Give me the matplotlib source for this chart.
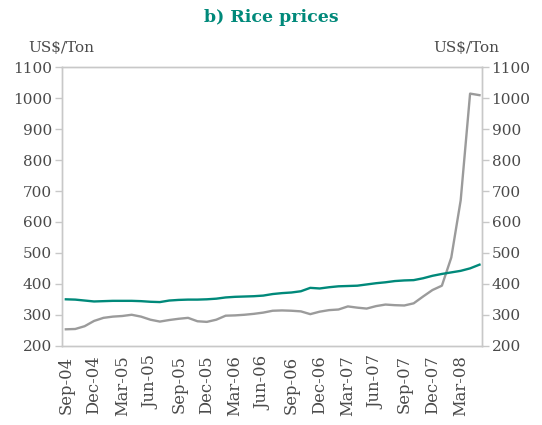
import matplotlib
matplotlib.use("Agg")
import matplotlib.pyplot as plt

months = ["Sep-04", "Oct-04", "Nov-04", "Dec-04", "Jan-05", "Feb-05", "Mar-05", "Apr-05",
          "May-05", "Jun-05", "Jul-05", "Aug-05", "Sep-05", "Oct-05", "Nov-05", "Dec-05",
          "Jan-06", "Feb-06", "Mar-06", "Apr-06", "May-06", "Jun-06", "Jul-06", "Aug-06",
          "Sep-06", "Oct-06", "Nov-06", "Dec-06", "Jan-07", "Feb-07", "Mar-07", "Apr-07",
          "May-07", "Jun-07", "Jul-07", "Aug-07", "Sep-07", "Oct-07", "Nov-07", "Dec-07",
          "Jan-08", "Feb-08", "Mar-08", "Apr-08", "May-08"]

gray_series = [253, 254, 263, 280, 290, 294, 296, 300, 294, 284, 278, 283, 287, 290, 279,
               277, 284, 297, 298, 300, 303, 307, 313, 314, 313, 311, 302, 310, 315, 317,
               327, 323, 320, 328, 333, 331, 330, 337, 359, 380, 394, 485, 670, 1015, 1010]

green_series = [350, 349, 346, 343, 344, 345, 345, 345, 344, 342, 341, 346, 348, 349, 349,
                350, 352, 356, 358, 359, 360, 362, 367, 370, 372, 376, 387, 385, 389, 392,
                393, 394, 398, 402, 405, 409, 411, 412, 418, 426, 432, 437, 442, 450, 462]

yticks = [200, 300, 400, 500, 600, 700, 800, 900, 1000, 1100]

teal = "#00897a"
gray = "#9b9b9b"
axis_col = "#c8c8c8"
text_col = "#4a4a4a"
serif = "DejaVu Serif"

fig = plt.figure(figsize=(5.42, 4.25), dpi=100)
ax = fig.add_axes([0.114, 0.1866, 0.775, 0.655])

x = list(range(len(months)))
ax.plot(x, gray_series, color=gray, lw=1.7, solid_joinstyle="round")
ax.plot(x, green_series, color=teal, lw=1.7, solid_joinstyle="round")

ax.set_xlim(-0.43, len(months) - 1 + 0.25)
ax.set_ylim(200, 1100)
ax.set_yticks(yticks)
ax.set_yticklabels([str(v) for v in yticks], family=serif, fontsize=11, color=text_col)

tick_idx = list(range(0, len(months), 3))
ax.set_xticks(tick_idx)
ax.set_xticklabels([months[i] for i in tick_idx], rotation=90, family=serif,
                   fontsize=11.8, color=text_col)
ax.tick_params(axis="x", length=0, pad=7)
ax.tick_params(axis="y", length=5, color=axis_col, width=1, pad=2)

for s in ax.spines.values():
    s.set_color(axis_col)
    s.set_linewidth(1)

ax2 = ax.twinx()
ax2.set_ylim(200, 1100)
ax2.set_yticks(yticks)
ax2.set_yticklabels([str(v) for v in yticks], family=serif, fontsize=11, color=text_col)
ax2.tick_params(axis="y", length=5, color=axis_col, width=1, pad=2)
for s in ax2.spines.values():
    s.set_color(axis_col)
    s.set_linewidth(1)

fig.text(0.5, 0.958, "b) Rice prices", ha="center", va="center", family=serif,
         fontsize=12.5, fontweight="bold", color=teal)
fig.text(0.113, 0.887, "US$/Ton", ha="center", va="center", family=serif,
         fontsize=11, color=text_col)
fig.text(0.860, 0.887, "US$/Ton", ha="center", va="center", family=serif,
         fontsize=11, color=text_col)

fig.savefig("out.png", dpi=100)
